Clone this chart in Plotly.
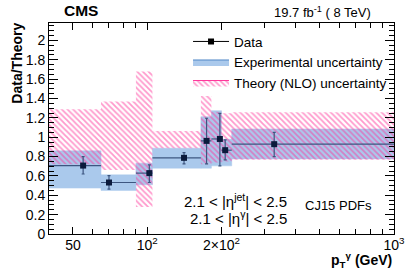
import plotly.graph_objects as go

# ---- data ----
bin_edges = [40, 65, 90, 105, 165, 182, 200, 220, 1000]
pt_points = [55, 70, 102, 141, 174, 197, 207, 327]
ratio = [0.707, 0.532, 0.629, 0.787, 0.962, 0.982, 0.866, 0.928]
stat_up = [0.093, 0.072, 0.085, 0.054, 0.234, 0.265, 0.106, 0.122]
stat_dn = [0.087, 0.068, 0.097, 0.062, 0.237, 0.278, 0.100, 0.128]
exp_lo = [0.474, 0.450, 0.508, 0.680, 0.680, 0.704, 0.704, 0.776]
exp_hi = [0.859, 0.611, 0.732, 0.886, 1.212, 1.274, 0.979, 1.085]
th_lo = [0.720, 0.660, 0.280, 0.886, 0.720, 0.740, 0.750, 0.766]
th_hi = [1.290, 1.370, 1.680, 1.065, 1.426, 1.264, 1.247, 1.257]

x_ticks = [50, 100, 200, 1000]
x_ticktext = ["50", "10<sup>2</sup>", "2×10<sup>2</sup>", "10<sup>3</sup>"]
x_minor = [40, 60, 70, 80, 90, 300, 400, 500, 600, 700, 800, 900]

FONT = "Liberation Sans, Arial, sans-serif"
BLUE = "rgb(170,201,236)"
PINK = "#ff3399"
HATCH = dict(shape="\\", fgcolor=PINK, bgcolor="rgba(0,0,0,0)", size=4, solidity=0.45)


def boxes(lo, hi):
    xs, ys = [], []
    for i in range(len(lo)):
        x0, x1 = bin_edges[i], bin_edges[i + 1]
        xs += [x0, x1, x1, x0, x0, None]
        ys += [lo[i], lo[i], hi[i], hi[i], lo[i], None]
    return xs, ys


fig = go.Figure()

ex, ey = boxes(exp_lo, exp_hi)
fig.add_trace(go.Scatter(
    x=ex, y=ey, mode="lines", fill="toself", fillcolor=BLUE,
    line=dict(color=BLUE, width=0.5), showlegend=False, hoverinfo="skip"))

tx, ty = boxes(th_lo, th_hi)
fig.add_trace(go.Scatter(
    x=tx, y=ty, mode="lines", fill="toself", fillcolor="rgba(0,0,0,0)",
    fillpattern=HATCH, line=dict(color="rgba(0,0,0,0)", width=0),
    showlegend=False, hoverinfo="skip"))

xm = [p - bin_edges[i] for i, p in enumerate(pt_points)]
xp = [bin_edges[i + 1] - p for i, p in enumerate(pt_points)]
fig.add_trace(go.Scatter(
    x=pt_points, y=ratio, mode="markers",
    marker=dict(symbol="square", size=6, color="#0b1a3c"),
    error_x=dict(type="data", symmetric=False, array=xp, arrayminus=xm,
                 color="#3d5680", thickness=1.2, width=0),
    error_y=dict(type="data", symmetric=False, array=stat_up, arrayminus=stat_dn,
                 color="#3d5680", thickness=1.2, width=1.5),
    showlegend=False))

# legend entries
fig.add_trace(go.Scatter(
    x=[None], y=[None], mode="lines+markers", name="Data",
    marker=dict(symbol="square", size=6, color="black"),
    line=dict(color="black", width=1)))
fig.add_trace(go.Scatter(
    x=[None], y=[None], mode="lines", fill="toself", fillcolor=BLUE,
    line=dict(color="#4f86c6", width=1), name="Experimental uncertainty"))
fig.add_trace(go.Scatter(
    x=[None], y=[None], mode="lines", fill="toself", fillcolor="rgba(0,0,0,0)",
    fillpattern=HATCH, line=dict(color=PINK, width=1),
    name="Theory (NLO) uncertainty"))

fig.update_layout(
    width=411, height=279,
    margin=dict(l=49, r=17, t=23, b=45, autoexpand=False),
    paper_bgcolor="white", plot_bgcolor="white",
    font=dict(family=FONT, size=14, color="black"),
    showlegend=True,
    legend=dict(x=0.403, y=0.985, xanchor="left", yanchor="top",
                bgcolor="rgba(0,0,0,0)", font=dict(size=13.5),
                itemwidth=36, tracegroupgap=0),
    xaxis=dict(type="log", range=[1.60206, 3.0], automargin=False,
               tickvals=x_ticks, ticktext=x_ticktext,
               ticks="inside", ticklen=7, tickcolor="black",
               showline=True, linecolor="black", linewidth=1, mirror="allticks",
               showgrid=False, zeroline=False, ticklabelstandoff=-2,
               tickfont=dict(size=14),
               minor=dict(tickvals=x_minor, ticks="inside", ticklen=5,
                          tickcolor="black", showgrid=False)),
    yaxis=dict(range=[0, 2.18], dtick=0.2, tick0=0, automargin=False,
               ticks="inside", ticklen=9, tickcolor="black",
               showline=True, linecolor="black", linewidth=1, mirror="allticks",
               showgrid=False, zeroline=False,
               tickfont=dict(size=14),
               minor=dict(dtick=0.05, ticks="inside", ticklen=5, tickcolor="black",
                          showgrid=False)),
)

ann = [
    dict(text="<b>CMS</b>", x=0.038, y=1.01, xref="paper", yref="paper",
         xanchor="left", yanchor="bottom", showarrow=False, font=dict(size=15.5)),
    dict(text="19.7 fb<sup>-1</sup> ( 8 TeV)", x=0.94, y=1.005, xref="paper", yref="paper",
         xanchor="right", yanchor="bottom", showarrow=False, font=dict(size=13)),
    dict(text="<b>Data/Theory</b>", x=-0.092, y=1.01, xref="paper", yref="paper",
         xanchor="center", yanchor="top", textangle=-90, showarrow=False,
         font=dict(size=14)),
    dict(text="<b>p<sub>T</sub><sup>γ</sup> (GeV)</b>", x=1.0, y=-0.125, xref="paper",
         yref="paper", xanchor="right", yanchor="middle", showarrow=False,
         font=dict(size=14)),
    dict(text="2.1 < |η<sup>jet</sup>| < 2.5", x=0.695, y=0.16, xref="paper", yref="paper",
         xanchor="right", yanchor="middle", showarrow=False, font=dict(size=15)),
    dict(text="2.1 < |η<sup>γ</sup>| < 2.5", x=0.695, y=0.08, xref="paper", yref="paper",
         xanchor="right", yanchor="middle", showarrow=False, font=dict(size=15)),
    dict(text="CJ15 PDFs", x=0.735, y=0.137, xref="paper", yref="paper",
         xanchor="left", yanchor="middle", showarrow=False, font=dict(size=13)),
]
fig.update_layout(annotations=ann)

fig.write_html("out.html", config={"displayModeBar": False},
               post_script="document.body.style.margin='0';")
